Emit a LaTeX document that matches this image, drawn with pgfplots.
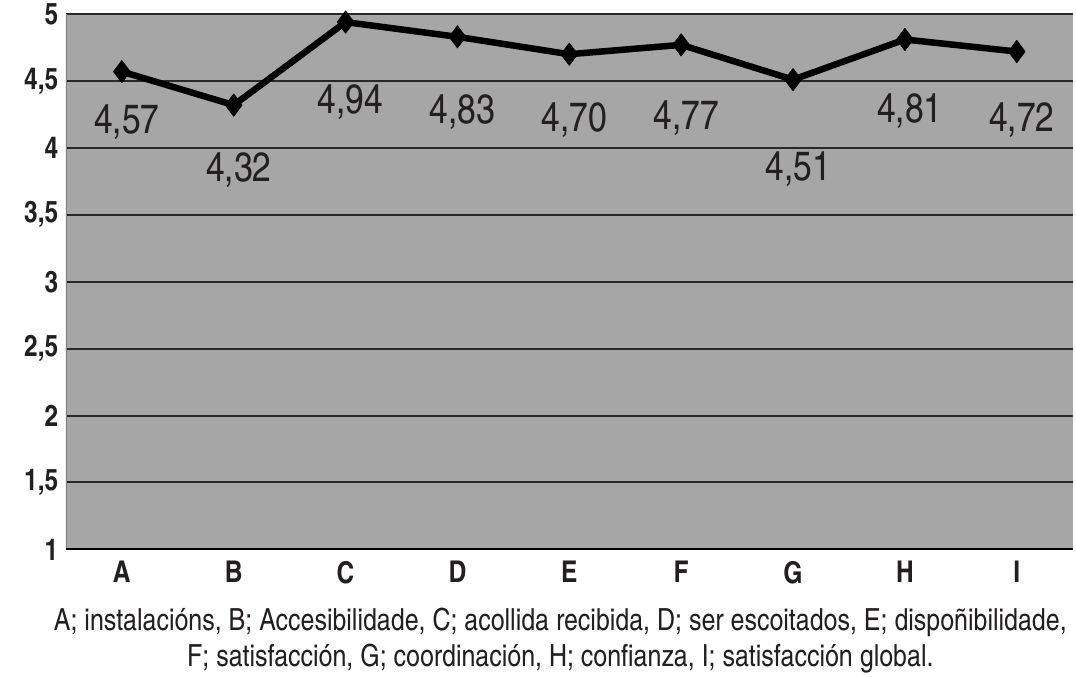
\documentclass[border=0pt]{standalone}
\usepackage{fontspec}
\setmainfont{TeX Gyre Heros Cn}
\usepackage{pgfplots}
\pgfplotsset{compat=1.18}

\definecolor{plotgray}{RGB}{166,166,166}
\definecolor{gridc}{RGB}{40,40,40}
\definecolor{txt}{RGB}{35,31,32}

\pgfplotstableread{
x  y     dy
0  4.57  -51
1  4.32  -65
2  4.94  -80
3  4.83  -75
4  4.70  -66
5  4.77  -73
6  4.51  -90
7  4.81  -72
8  4.72  -69
}\scores

\begin{document}
\begin{tikzpicture}
\begin{axis}[
    scale only axis,
    width=1008pt, height=536pt,
    xmin=-0.5, xmax=8.5,
    ymin=1, ymax=5,
    axis background/.style={fill=plotgray},
    axis line style={draw=none},
    /pgf/number format/assume math mode=true,
    /pgf/number format/use comma,
    xtick={0,...,8},
    xticklabels={A,B,C,D,E,F,G,H,I},
    major x tick style={draw=none},
    extra x ticks={-0.5,0.5,...,8.5},
    extra x tick labels={},
    extra x tick style={tick align=outside, major tick length=10pt,
        tick style={draw=black, line width=1.5pt}},
    xtick pos=bottom,
    ytick={1,1.5,...,5},
    ytick style={draw=none},
    ymajorgrids=true,
    grid style={gridc, line width=2pt},
    tick label style={font=\bfseries\fontsize{30}{32}\selectfont, text=txt},
    yticklabel style={xshift=-4pt},
    xticklabel style={yshift=-8pt},
    xlabel={A; instalacións, B; Accesibilidade, C; acollida recibida, D; ser escoitados, E; dispoñibilidade,\\F; satisfacción, G; coordinación, H; confianza, I; satisfacción global.},
    xlabel style={font=\fontsize{30.5}{36}\selectfont, text=txt, align=center, yshift=-8pt, xshift=-9pt},
]
\draw[gray, line width=1.5pt] (axis cs:-0.5,1) -- (axis cs:-0.5,5);
\addplot[
    black, line width=6.5pt, line join=round,
    mark=diamond*, mark size=11pt,
    mark options={line width=1pt},
    point meta=y,
    nodes near coords,
    visualization depends on=\thisrow{dy} \as \dy,
    every node near coord/.style={anchor=center, yshift=\dy pt, xshift=5pt,
        font=\fontsize{41}{43}\selectfont, text=txt,
        /pgf/number format/.cd, fixed, fixed zerofill, precision=2, use comma},
] table[x=x, y=y] {\scores};
\draw[black, line width=2.5pt] (axis cs:-0.5,1) -- (axis cs:8.5,1);
\end{axis}
\path (current axis.south west) ++(-66pt,-123pt) rectangle ++(1076pt,673pt);
\end{tikzpicture}
\end{document}
